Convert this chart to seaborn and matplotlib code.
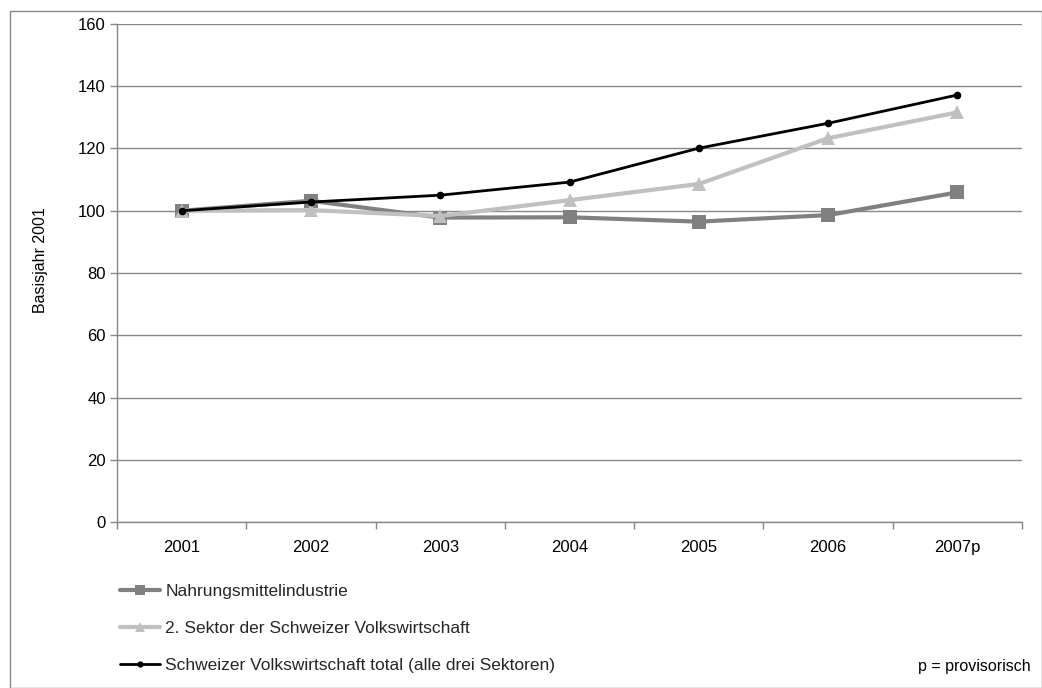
import matplotlib
matplotlib.use("Agg")
import matplotlib.pyplot as plt
import seaborn as sns
import pandas as pd
import numpy as np
from matplotlib.patches import Rectangle
from matplotlib.ticker import FixedLocator, NullFormatter, FixedFormatter

years = ["2001", "2002", "2003", "2004", "2005", "2006", "2007p"]
nahrung = [100, 103.2, 97.8, 97.9, 96.5, 98.6, 105.9]
sektor2 = [100, 100.2, 98.3, 103.4, 108.6, 123.3, 131.6]
total = [100, 102.8, 105.0, 109.2, 120.1, 128.1, 137.2]

labels = [
    "Nahrungsmittelindustrie",
    "2. Sektor der Schweizer Volkswirtschaft",
    "Schweizer Volkswirtschaft total (alle drei Sektoren)",
]
yticks = [0, 20, 40, 60, 80, 100, 120, 140, 160]

sns.set_theme(style="white")
plt.rcParams["font.family"] = ["Liberation Sans", "DejaVu Sans"]

W, H = 1042, 688
fig = plt.figure(figsize=(W / 100, H / 100), dpi=100)
ax = fig.add_axes([117 / W, 1 - 522 / H, (1022 - 117) / W, (522 - 24) / H])

pos = np.arange(len(years))
df = pd.DataFrame({"pos": pos, "n": nahrung, "s": sektor2, "t": total})

sns.lineplot(data=df, x="pos", y="n", ax=ax, color="#808080", linewidth=3,
             marker="s", markersize=9.5, markeredgewidth=0, label=labels[0], zorder=3)
sns.lineplot(data=df, x="pos", y="s", ax=ax, color="#c0c0c0", linewidth=3,
             marker="^", markersize=10.5, markeredgewidth=0, label=labels[1], zorder=4)
sns.lineplot(data=df, x="pos", y="t", ax=ax, color="#000000", linewidth=2,
             marker="o", markersize=5.5, markeredgewidth=0, label=labels[2], zorder=5)

ax.set_xlim(-0.5, len(years) - 0.5)
ax.set_ylim(0, 160)
ax.set_yticks(yticks)
ax.set_yticklabels([str(v) for v in yticks])
ax.yaxis.grid(True, color="#888888", linewidth=1)
ax.set_axisbelow(True)

# category boundaries carry the tick marks, labels sit centred between them
ax.xaxis.set_major_locator(FixedLocator(np.arange(-0.5, len(years), 1.0)))
ax.xaxis.set_major_formatter(NullFormatter())
ax.xaxis.set_minor_locator(FixedLocator(pos))
ax.xaxis.set_minor_formatter(FixedFormatter(years))
ax.tick_params(axis="x", which="major", direction="out", length=5, width=1,
               color="#888888", bottom=True)
ax.tick_params(axis="x", which="minor", length=0, pad=13, labelsize=12, labelcolor="black")
ax.tick_params(axis="y", direction="out", length=5, width=1, color="#888888",
               left=True, labelsize=12, labelcolor="black", pad=3)

for side in ["top", "right"]:
    ax.spines[side].set_visible(False)
for side in ["left", "bottom"]:
    ax.spines[side].set_color("#888888")
    ax.spines[side].set_linewidth(1)

ax.set_xlabel("")
ax.set_ylabel("Basisjahr 2001", fontsize=11.5, color="black")
ax.yaxis.set_label_coords((48 - 117) / (1022 - 117), (522 - 260) / (522 - 24))

ax.get_legend().remove()
handles, labs = ax.get_legend_handles_labels()
leg = fig.legend(handles, labs, loc="upper left", bbox_to_anchor=(120 / W, 1 - 584 / H),
                 frameon=False, fontsize=12.5, handlelength=2.3, handletextpad=0.3,
                 labelspacing=1.25, borderpad=0, borderaxespad=0)
# smaller symbols inside the legend keys
for h, ms in zip(leg.legend_handles, [7, 7.5, 4.5]):
    h.set_markersize(ms)

fig.text(1031 / W, 1 - 667 / H, "p = provisorisch", ha="right", va="center",
         fontsize=11.5, color="black")

fig.patches.append(Rectangle((10 / W, 0), 1 - 10 / W - 0.5 / W, 1 - 11 / H,
                             transform=fig.transFigure, fill=False,
                             edgecolor="#888888", linewidth=1))

fig.savefig("out.png", dpi=100)
